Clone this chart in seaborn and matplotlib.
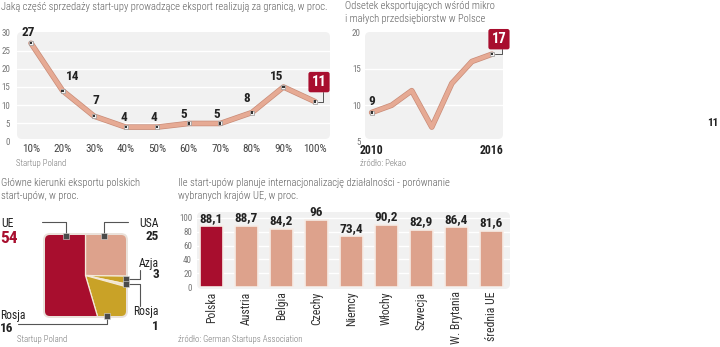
import matplotlib
matplotlib.use("Agg")
import matplotlib.pyplot as plt
import seaborn as sns
import pandas as pd
from matplotlib import font_manager
from matplotlib.patches import FancyBboxPatch
import matplotlib.patheffects as pe

# ---------------- data ----------------
share_cats = ["10%", "20%", "30%", "40%", "50%", "60%", "70%", "80%", "90%", "100%"]
share_vals = [27, 14, 7, 4, 4, 5, 5, 8, 15, 11]

years = [2010, 2011, 2012, 2013, 2014, 2015, 2016]
exporters = [9, 10, 12, 7, 13, 16, 17]

dir_names = ["USA", "Azja", "Rosja", "Rosja", "UE"]
dir_vals = [25, 3, 1, 16, 54]

countries = ["Polska", "Austria", "Belgia", "Czechy", "Niemcy", "Włochy",
             "Szwecja", "W. Brytania", "średnia UE"]
plans = [88.1, 88.7, 84.2, 96, 73.4, 90.2, 82.9, 86.4, 81.6]

title1 = "Jaką część sprzedaży start-upy prowadzące eksport realizują za granicą, w proc."
title2 = ["Odsetek eksportujących wśród mikro", "i małych przedsiębiorstw w Polsce"]
title3 = ["Główne kierunki eksportu polskich", "start-upów, w proc."]
title4 = ["Ile start-upów planuje internacjonalizację działalności - porównanie",
          "wybranych krajów UE, w proc."]

# ---------------- style ----------------
sns.set_style("white")
avail = {f.name for f in font_manager.fontManager.ttflist}
FONT = "DejaVu Sans"
for cand in ["Roboto Condensed", "Liberation Sans Narrow", "Open Sans Condensed", "Liberation Sans"]:
    if cand in avail:
        FONT = cand
        break
plt.rcParams["font.family"] = [FONT, "DejaVu Sans"]

CRIMSON = "#A80E2E"
SALMON = "#DDA28C"
LINE = "#E6AA94"
GOLD = "#C9A227"
BG = "#F1F1F1"
DARK = "#222222"
TITLE_C = "#5e5e5e"
TS = 7.6  # title size

W, H = 720, 347
fig = plt.figure(figsize=(W / 100, H / 100), dpi=100)


def px_ax(x0, y0, x1, y1, **kw):
    return fig.add_axes([x0 / W, 1 - y1 / H, (x1 - x0) / W, (y1 - y0) / H], **kw)


bg = px_ax(0, 0, W, H, zorder=-5)
bg.set_xlim(0, W); bg.set_ylim(H, 0); bg.axis("off")
ov = px_ax(0, 0, W, H, zorder=20)
ov.set_xlim(0, W); ov.set_ylim(H, 0); ov.axis("off")
ov.patch.set_alpha(0)


def rbox(x0, y0, x1, y1, color, r=5):
    bg.add_patch(FancyBboxPatch((x0, y0), x1 - x0, y1 - y0,
                                boxstyle=f"round,pad=0,rounding_size={r}",
                                fc=color, ec="none"))


def txt(x, y, s, **kw):
    kw.setdefault("va", "center")
    ov.text(x, y, s, **kw)


def title(x, y, s):
    txt(x, y, s, fontsize=TS, color=TITLE_C, fontweight="light")


def source(x, y, s):
    txt(x, y, s, fontsize=6.3, color="#777777", fontweight="light")


# ---------------- chart 1 ----------------
rbox(17, 32, 330, 139, BG)
ax1 = px_ax(17, 32.3, 330, 141.7)
ax1.patch.set_alpha(0)
sns.lineplot(x=share_cats, y=share_vals, ax=ax1, color=LINE, lw=3, sort=False,
             path_effects=[pe.Stroke(linewidth=4, foreground="#C98C78"), pe.Normal()])
sns.scatterplot(x=share_cats, y=share_vals, ax=ax1, marker="s", s=12, color="#f3f3f3",
                edgecolor="#9a9a9a", linewidth=0.5, zorder=4)
sns.scatterplot(x=share_cats, y=share_vals, ax=ax1, marker="s", s=2.5, color="#333333",
                edgecolor="none", zorder=5)
ax1.set_ylim(0, 30)
ax1.set_xlim(-0.444, 9.475)
ax1.set_yticks([0, 5, 10, 15, 20, 25, 30])
for yv in [5, 10, 15, 20, 25]:
    ax1.axhline(yv, color="white", lw=1, zorder=0)
ax1.tick_params(axis="y", length=0, pad=5, labelsize=6.5, labelcolor="#777777")
ax1.tick_params(axis="x", length=0, pad=2, labelsize=8, labelcolor="#444444")
ax1.set_xlabel(""); ax1.set_ylabel("")
sns.despine(ax=ax1, left=True, bottom=True)
offs1 = [(-3, 11), (10, 14), (2, 16), (-2, 10), (-3, 10), (-5, 9), (-4, 9), (-5, 14), (-7, 11)]
for i, (v, (dx, dy)) in enumerate(zip(share_vals[:-1], offs1)):
    ax1.annotate(str(v), (i, v), xytext=(dx * 0.72, dy * 0.72), textcoords="offset points",
                 ha="center", va="center", fontsize=9.5, fontweight="bold", color=DARK)
ax1.annotate(str(share_vals[-1]), (len(share_vals) - 1, share_vals[-1]),
             xytext=(4 * 0.72, 19.5 * 0.72), textcoords="offset points",
             ha="center", va="center", fontsize=10.5, fontweight="bold", color="white",
             bbox=dict(boxstyle="round,pad=0.22,rounding_size=0.15", fc=CRIMSON, ec="none"),
             arrowprops=dict(arrowstyle="-", connectionstyle="angle,angleA=90,angleB=0,rad=0",
                             relpos=(0.75, 0), shrinkA=0, shrinkB=2, color="#555555", lw=0.7))
title(1, 7, title1)
source(16, 163, "Startup Poland")

# ---------------- chart 2 ----------------
rbox(365, 32, 503, 139, BG)
ax2 = px_ax(365, 32.3, 503, 141.7)
ax2.patch.set_alpha(0)
sns.lineplot(x=years, y=exporters, ax=ax2, color=LINE, lw=3,
             path_effects=[pe.Stroke(linewidth=4, foreground="#C98C78"), pe.Normal()])
ends_x = [years[0], years[-1]]
ends_y = [exporters[0], exporters[-1]]
sns.scatterplot(x=ends_x, y=ends_y, ax=ax2, marker="s", s=12, color="#f3f3f3",
                edgecolor="#9a9a9a", linewidth=0.5, zorder=4)
sns.scatterplot(x=ends_x, y=ends_y, ax=ax2, marker="s", s=2.5, color="#333333",
                edgecolor="none", zorder=5)
ax2.set_ylim(5, 20)
ax2.set_xlim(2009.67, 2016.55)
ax2.set_yticks([5, 10, 15, 20])
for yv in [10, 15]:
    ax2.axhline(yv, color="white", lw=1, zorder=0)
ax2.set_xticks(ends_x)
ax2.set_xticklabels([str(y) for y in ends_x])
ax2.tick_params(axis="y", length=0, pad=3, labelsize=6.5, labelcolor="#777777")
ax2.tick_params(axis="x", length=0, pad=2, labelsize=8.5, labelcolor=DARK)
for t in ax2.get_xticklabels():
    t.set_fontweight("bold")
ax2.set_xlabel(""); ax2.set_ylabel("")
sns.despine(ax=ax2, left=True, bottom=True)
ax2.annotate(str(exporters[0]), (years[0], exporters[0]), xytext=(0, 11 * 0.72),
             textcoords="offset points", ha="center", va="center",
             fontsize=9.5, fontweight="bold", color=DARK)
ax2.annotate(str(exporters[-1]), (years[-1], exporters[-1]), xytext=(7 * 0.72, 15 * 0.72),
             textcoords="offset points", ha="center", va="center",
             fontsize=10.5, fontweight="bold", color="white",
             bbox=dict(boxstyle="round,pad=0.22,rounding_size=0.15", fc=CRIMSON, ec="none"),
             arrowprops=dict(arrowstyle="-", connectionstyle="angle,angleA=90,angleB=0,rad=0",
                             relpos=(0.7, 0), shrinkA=0, shrinkB=2, color="#555555", lw=0.7))
title(345, 6, title2[0])
title(345, 19, title2[1])
source(360, 163, "źródło: Pekao")

txt(713, 123, "11", fontsize=8, fontweight="bold", color=DARK, ha="center")

# ---------------- chart 3 (square pie) ----------------
rbox(43, 233, 128, 318, "#EAE2DB", r=7)
ax3 = px_ax(45, 235, 126, 316)
ax3.patch.set_alpha(0)
wedges, _ = ax3.pie(dir_vals, colors=[SALMON, GOLD, "#F2E2C4", GOLD, CRIMSON],
                    startangle=90, counterclock=False, radius=2.2, center=(0, 0),
                    wedgeprops=dict(edgecolor="#F4E9D8", linewidth=0.9))
ax3.set_xlim(-1, 1); ax3.set_ylim(-1, 1)
clip = FancyBboxPatch((-1, -1), 2, 2, boxstyle="round,pad=0,rounding_size=0.12",
                      transform=ax3.transData, fc="none", ec="none")
ax3.add_patch(clip)
for w in wedges:
    w.set_clip_on(True)
    w.set_clip_path(clip)
ax3.axis("off")

lc = dict(color="#555555", lw=0.8)
ov.plot([42, 66, 66], [222, 222, 235], **lc)
ov.plot([128, 103.5, 103.5], [222, 222, 235], **lc)
ov.plot([126, 140, 140], [279, 279, 270], **lc)
ov.plot([126, 140, 140], [284, 284, 306], **lc)
ov.plot([107, 107, 18], [316, 324, 324], **lc)
for mx, my in [(66, 235.5), (103.5, 235.5), (126, 279), (126, 284), (107, 316)]:
    ov.scatter([mx], [my], marker="s", s=16, color="#4a4a4a", edgecolor="#dddddd",
               linewidth=0.4, zorder=30)

txt(1, 223, dir_names[4], fontsize=8.5, color=DARK)
txt(0, 238.5, str(dir_vals[4]), fontsize=12.5, fontweight="bold", color=CRIMSON)
txt(159, 223, dir_names[0], fontsize=8.5, color=DARK, ha="right")
txt(159, 236, str(dir_vals[0]), fontsize=9.5, fontweight="bold", color=DARK, ha="right")
txt(159, 263, dir_names[1], fontsize=8.5, color=DARK, ha="right")
txt(159, 275, str(dir_vals[1]), fontsize=9.5, fontweight="bold", color=DARK, ha="right")
txt(159, 312, dir_names[2], fontsize=8.5, color=DARK, ha="right")
txt(159, 326, str(dir_vals[2]), fontsize=9.5, fontweight="bold", color=DARK, ha="right")
txt(0, 316, dir_names[3], fontsize=8.5, color=DARK)
txt(0, 328, str(dir_vals[3]), fontsize=9.5, fontweight="bold", color=DARK)

title(1, 183, title3[0])
title(1, 196, title3[1])
source(17, 339, "Startup Poland")

# ---------------- chart 4 (bars) ----------------
rbox(197, 212, 510, 289, BG)
ax4 = px_ax(197, 212.7, 510, 287.3)
ax4.patch.set_alpha(0)
df4 = pd.DataFrame({"country": countries, "plan": plans})
pal = [CRIMSON] + [SALMON] * (len(countries) - 1)
sns.barplot(data=df4, x="country", y="plan", hue="country", palette=pal, legend=False,
            ax=ax4, width=0.66, edgecolor="#F6ECE6", linewidth=1.2, saturation=1, zorder=3)
ax4.set_ylim(0, 107.2)
ax4.set_xlim(-0.41, 8.54)
ax4.set_yticks([0, 20, 40, 60, 80, 100])
for yv in [20, 40, 60, 80, 100]:
    ax4.axhline(yv, color="white", lw=1, zorder=0)
ax4.tick_params(axis="y", length=0, pad=3.6, labelsize=6.5, labelcolor="#777777")
ax4.tick_params(axis="x", length=0, pad=3, labelsize=8.5, labelcolor="#333333", rotation=90)
ax4.set_xlabel(""); ax4.set_ylabel("")
sns.despine(ax=ax4, left=True, bottom=True)
for cont in ax4.containers:
    ax4.bar_label(cont, labels=[f"{v:g}".replace(".", ",") for v in cont.datavalues],
                  padding=1, fontsize=9.5, fontweight="bold", color=DARK)
title(178, 183, title4[0])
title(178, 196, title4[1])
source(178, 340, "źródło: German Startups Association")

fig.savefig("out.png", dpi=100)
